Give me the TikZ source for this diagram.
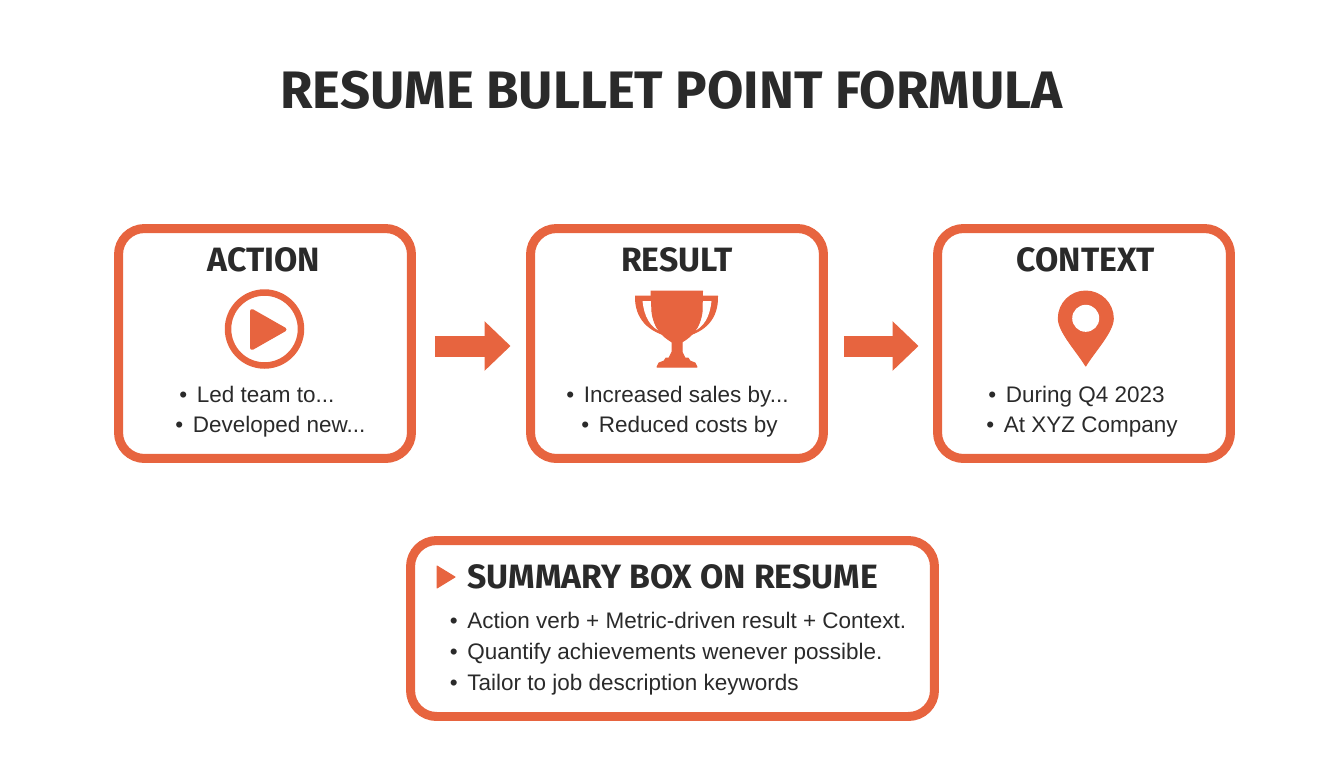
\documentclass[tikz,border=0pt]{standalone}
\usepackage{fontspec}
\setmainfont{Liberation Sans}
\newfontfamily\headfont{Fira Sans}
\usetikzlibrary{arrows.meta}
\definecolor{coral}{HTML}{E7643F}
\definecolor{ink}{HTML}{2A2A2A}
\newcommand{\dotitem}{•\hskip 0.07cm\ }

\begin{document}
\begin{tikzpicture}[x=0.02cm,y=-0.02cm]
	\tikzstyle{card} = [rectangle, draw=coral, line width=0.18cm, rounded corners=0.52cm, inner sep=0pt, minimum width=5.86cm, minimum height=4.6cm]
	\tikzstyle{headline} = [anchor=base, text=ink, font=\headfont\bfseries\fontsize{19.2}{22}\selectfont]
	\tikzstyle{item} = [anchor=base west, inner sep=0pt, text=ink, font=\fontsize{12.8}{15}\selectfont]
	\tikzstyle{glyph} = [fill=coral, draw=coral, line width=0.02cm, line join=round]
	\tikzstyle{connector} = [draw=coral, line width=0.42cm, -{Triangle[length=0.52cm,width=0.96cm]}]
\useasboundingbox (0,0) rectangle (1344,768);
\node [anchor=base, text=ink, font=\headfont\bfseries\fontsize{30}{34}\selectfont] at (671.5,108) (title) {RESUME BULLET POINT FORMULA};
\node [card] at (265,343.5) (action) {};
\node [card] at (677,343.5) (result) {};
\node [card] at (1084,343.5) (context) {};
\node [card, minimum width=10.48cm, minimum height=3.52cm] at (672.5,628.5) (summary) {};
\node [headline] at (264,271) (actionhead) {ACTION};
\node [headline] at (677,271) (resulthead) {RESULT};
\node [headline] at (1086,271) (contexthead) {CONTEXT};
% icons
\node [circle, draw=coral, line width=0.13cm, inner sep=0pt, minimum size=1.46cm] at (264.5,329) (playring) {};
\draw [glyph, line width=0.08cm] (252,311) -- (284.5,329.5) -- (252,348) -- cycle;
\draw [glyph] (635.5,296) -- (651,296) -- (703,296) -- (717.5,296) .. controls (718,318) and (706,332) .. (682,337) -- (672,337) .. controls (648,332) and (635,318) .. (635.5,296) -- cycle;
\fill [white] (642.5,301) -- (653,301) -- (662,332) .. controls (650,328) and (644,316) .. (642.5,301) -- cycle;
\fill [white] (711.5,301) -- (701,301) -- (692,332) .. controls (704,328) and (710,316) .. (711.5,301) -- cycle;
\draw [glyph] (651,291) -- (702.5,291) -- (702,312) .. controls (700,328) and (692,336) .. (682,342) -- (682,352) -- (685,358) -- (688,358) -- (690,361) -- (695,363) -- (697,367) -- (657,367) -- (659,363) -- (664,361) -- (666,358) -- (669,358) -- (672,352) -- (672,342) .. controls (662,336) and (654,328) .. (652,312) -- cycle;
\draw [glyph] (1058.3,318.5) .. controls (1058.3,303.3) and (1070.5,291) .. (1085.7,291) .. controls (1100.9,291) and (1113.3,303.3) .. (1113.3,318.5) .. controls (1113.3,332) and (1094,352) .. (1085.7,366) .. controls (1077.4,352) and (1058.3,332) .. (1058.3,318.5) -- cycle;
\node [circle, fill=white, inner sep=0pt, minimum size=0.54cm] at (1085.7,318.3) (pinhole) {};
% bullets
\node [item] at (179,402) (led) {\dotitem Led team to...};
\node [item] at (175,432) (developed) {\dotitem Developed new...};
\node [item] at (566,402) (increased) {\dotitem Increased sales by...};
\node [item] at (581,432) (reduced) {\dotitem Reduced costs by};
\node [item] at (988,402) (during) {\dotitem During Q4 2023};
\node [item] at (986,432) (company) {\dotitem At XYZ Company};
% summary
\draw [glyph] (437,566) -- (455,577) -- (437,588) -- cycle;
\node [anchor=base west, inner sep=0pt, text=ink, font=\headfont\bfseries\fontsize{19.2}{22}\selectfont] at (467,588) (summaryhead) {SUMMARY BOX ON RESUME};
\node [item] at (449.5,628) (verb) {\dotitem Action verb + Metric-driven result + Context.};
\node [item] at (449.5,659) (quantify) {\dotitem Quantify achievements wenever possible.};
\node [item] at (449.5,690) (tailor) {\dotitem Tailor to job description keywords};
% arrows
\path [connector, shorten <=0.38cm, shorten >=0.31cm] ([yshift=-0.05cm]action.east) -- ([yshift=-0.05cm]result.west);
\path [connector, shorten <=0.32cm, shorten >=0.29cm] ([yshift=-0.05cm]result.east) -- ([yshift=-0.05cm]context.west);
\end{tikzpicture}
\end{document}
